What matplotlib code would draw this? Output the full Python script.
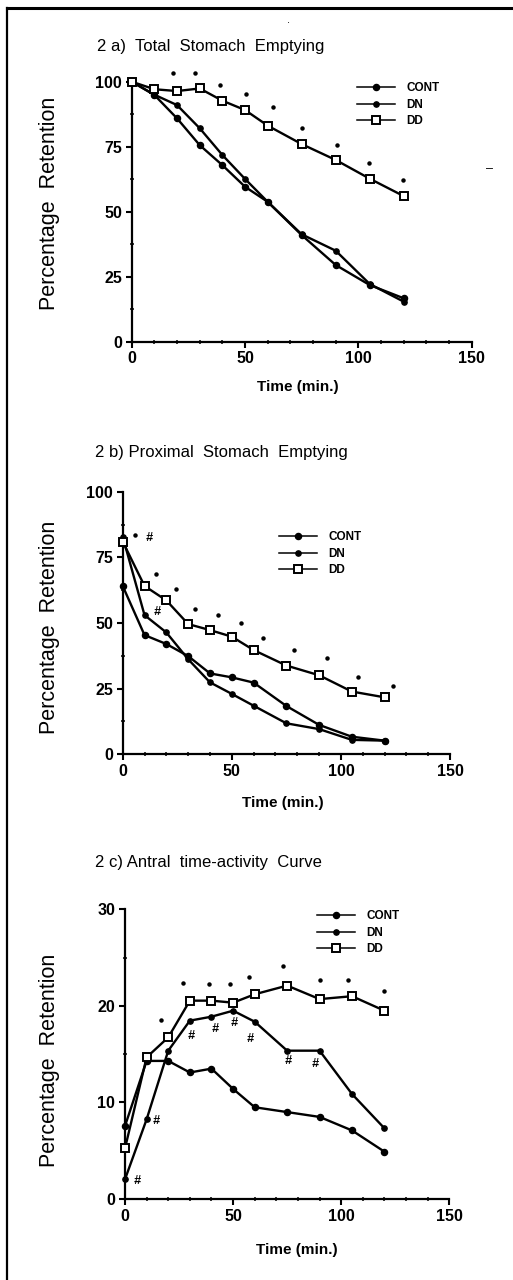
import matplotlib
matplotlib.use("Agg")
import matplotlib.pyplot as plt
from matplotlib.lines import Line2D
from matplotlib.ticker import MultipleLocator

plt.rcParams["font.family"] = ["Liberation Sans", "DejaVu Sans"]

# ---- data ----
time = [0, 10, 20, 30, 40, 50, 60, 75, 90, 105, 120]

# 2a total stomach emptying
a_cont = [100, 94.9, 85.9, 75.6, 67.9, 59.6, 53.8, 41.0, 29.5, 21.8, 16.7]
a_dn = [100, 95.0, 91.0, 82.1, 71.8, 62.6, 53.8, 41.3, 35.0, 22.2, 15.4]
a_dd = [100, 97.1, 96.4, 97.4, 92.7, 89.1, 83.1, 76.0, 69.9, 62.7, 56.0]
a_dot_x = [18.4, 27.9, 39, 50.4, 62.2, 75, 90.7, 104.9, 119.9]
a_dot_y = [103.2, 103.2, 98.7, 95.3, 90.1, 82.2, 75.5, 68.6, 62.2]

# 2b proximal stomach emptying
b_cont = [64.1, 45.4, 42.0, 37.4, 30.8, 29.3, 27.3, 18.4, 11.2, 6.7, 5.2]
b_dn = [82.9, 53.0, 46.4, 36.2, 27.4, 23.0, 18.5, 11.8, 9.6, 5.5, 5.2]
b_dd = [81.0, 64.1, 58.6, 49.6, 47.3, 44.8, 39.7, 33.8, 30.1, 23.9, 21.7]
b_dot_x = [5.7, 15.3, 24.4, 33.1, 43.8, 54.1, 64.2, 78.5, 93.5, 108, 123.7]
b_dot_y = [83.5, 68.5, 62.8, 55.2, 53.0, 49.9, 44.2, 39.7, 36.5, 29.6, 26.1]
b_hash_x = [12.2, 15.6]
b_hash_y = [82.2, 54.3]

# 2c antral time-activity curve
c_cont = [7.56, 14.3, 14.3, 13.1, 13.5, 11.4, 9.5, 9.0, 8.5, 7.1, 4.9]
c_dn = [2.04, 8.25, 15.36, 18.47, 18.88, 19.5, 18.36, 15.36, 15.36, 10.87, 7.32]
c_dd = [5.25, 14.67, 16.74, 20.54, 20.54, 20.33, 21.2, 22.1, 20.7, 21.0, 19.5]
c_dot_x = [16.6, 27, 39, 48.6, 57.5, 73.2, 90.2, 103.3, 120]
c_dot_y = [18.5, 22.4, 22.3, 22.3, 23.0, 24.1, 22.7, 22.7, 21.5]
c_hash_x = [5.4, 14.6, 30.5, 41.6, 50.6, 57.8, 75.5, 87.9]
c_hash_y = [1.9, 8.1, 16.9, 17.6, 18.2, 16.6, 14.3, 14.0]

labels = ["CONT", "DN", "DD"]

W, H = 513, 1280
fig = plt.figure(figsize=(W / 100, H / 100), dpi=100)


def px_box(x0, x1, ytop, ybot):
    return [x0 / W, 1 - ybot / H, (x1 - x0) / W, (ybot - ytop) / H]


def panel(box, ymax, ymajor, yminor, series, dots, hashes, title, title_xy,
          ylabel_xy, xlabel_xy, leg_xy):
    ax = fig.add_axes(box)
    cont, dn, dd = series
    ax.plot(time, cont, "-o", color="black", lw=1.7, ms=4.4, label=labels[0],
            clip_on=False, zorder=3)
    ax.plot(time, dn, "-o", color="black", lw=1.7, ms=3.8, label=labels[1],
            clip_on=False, zorder=3)
    ax.plot(time, dd, "-s", color="black", lw=1.7, ms=5.8, mfc="white",
            mew=1.4, label=labels[2], clip_on=False, zorder=4)
    ax.plot(dots[0], dots[1], "o", color="black", ms=2.2, ls="none",
            clip_on=False)
    for hx, hy in zip(*hashes):
        ax.text(hx, hy, "#", fontsize=9, fontweight="bold", style="italic",
                ha="center", va="center")
    ax.set_xlim(0, 150)
    ax.set_ylim(0, ymax)
    ax.xaxis.set_major_locator(MultipleLocator(50))
    ax.xaxis.set_minor_locator(MultipleLocator(10))
    ax.yaxis.set_major_locator(MultipleLocator(ymajor))
    ax.yaxis.set_minor_locator(MultipleLocator(yminor))
    for s in ["top", "right"]:
        ax.spines[s].set_visible(False)
    for s in ["left", "bottom"]:
        ax.spines[s].set_linewidth(1.6)
    ax.tick_params(which="major", length=4, width=1.5, pad=3, labelsize=11.5)
    ax.tick_params(which="minor", length=2.5, width=1.1, direction="inout")
    for lab in ax.get_xticklabels() + ax.get_yticklabels():
        lab.set_fontweight("bold")

    fig.text(title_xy[0] / W, 1 - title_xy[1] / H, title, fontsize=12,
             ha="left", va="center")
    fig.text(ylabel_xy[0] / W, 1 - ylabel_xy[1] / H, "Percentage  Retention",
             fontsize=15.5, rotation=90, ha="center", va="center")
    fig.text(xlabel_xy[0] / W, 1 - xlabel_xy[1] / H, "Time (min.)",
             fontsize=11, fontweight="bold", ha="center", va="center")

    leg = ax.legend(loc="upper left", bbox_to_anchor=(leg_xy[0] / W, 1 - leg_xy[1] / H),
                    bbox_transform=fig.transFigure, frameon=False,
                    borderaxespad=0, borderpad=0, handlelength=3.2,
                    handletextpad=1.0, labelspacing=0.4,
                    prop={"size": 8.5, "weight": "bold"})
    for ln in leg.get_lines():
        ln.set_linewidth(1.1)
    return ax


panel(px_box(131.7, 471.7, 81.7, 341.7), 100, 25, 12.5,
      (a_cont, a_dn, a_dd), (a_dot_x, a_dot_y), ([], []),
      "2 a)  Total  Stomach  Emptying", (97, 47), (50, 203), (298, 387),
      (357, 82))

panel(px_box(122.7, 450, 491.7, 754.3), 100, 25, 12.5,
      (b_cont, b_dn, b_dd), (b_dot_x, b_dot_y), (b_hash_x, b_hash_y),
      "2 b) Proximal  Stomach  Emptying", (95, 452), (50, 627), (283, 803),
      (279, 531))

panel(px_box(125, 449.3, 909.3, 1199), 30, 10, 5,
      (c_cont, c_dn, c_dd), (c_dot_x, c_dot_y), (c_hash_x, c_hash_y),
      "2 c) Antral  time-activity  Curve", (95, 862), (50, 1060), (297, 1250),
      (317, 910))

# scanned page frame (top and left edges) and stray marks
fig.add_artist(Line2D([7 / W, 1], [1 - 8 / H, 1 - 8 / H], color="black",
                      lw=2.2, transform=fig.transFigure))
fig.add_artist(Line2D([7 / W, 7 / W], [0, 1 - 8 / H], color="black",
                      lw=1.6, transform=fig.transFigure))
fig.text(490 / W, 1 - 169 / H, "\u2013", fontsize=9, ha="center", va="center")
fig.text(288 / W, 1 - 20 / H, ".", fontsize=8, ha="center", va="center")

fig.savefig("out.png", dpi=100)
